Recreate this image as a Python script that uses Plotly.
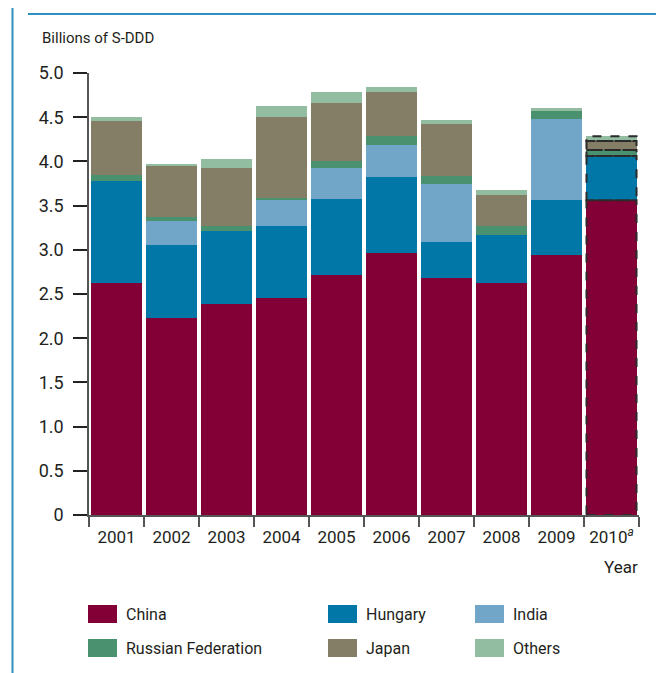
import plotly.graph_objects as go

# === Data (billions of S-DDD) ===
years = ["2001", "2002", "2003", "2004", "2005", "2006", "2007", "2008", "2009", "2010"]
year_labels = ["2001", "2002", "2003", "2004", "2005", "2006", "2007", "2008", "2009",
               "2010<sup><i>a</i></sup>"]
china = [2.62, 2.23, 2.39, 2.45, 2.72, 2.96, 2.68, 2.63, 2.94, 3.56]
hungary = [1.16, 0.82, 0.82, 0.82, 0.85, 0.86, 0.41, 0.54, 0.62, 0.50]
india = [0.0, 0.28, 0.0, 0.30, 0.35, 0.37, 0.65, 0.0, 0.92, 0.0]
russia = [0.065, 0.045, 0.055, 0.015, 0.09, 0.10, 0.10, 0.10, 0.10, 0.07]
japan = [0.61, 0.575, 0.665, 0.92, 0.655, 0.50, 0.585, 0.35, 0.0, 0.10]
others = [0.05, 0.01, 0.10, 0.12, 0.125, 0.055, 0.045, 0.055, 0.02, 0.055]

series = [
    ("China", china, "#820035"),
    ("Hungary", hungary, "#0077a6"),
    ("India", india, "#72a6c9"),
    ("Russian Federation", russia, "#4a9170"),
    ("Japan", japan, "#837e65"),
    ("Others", others, "#93bda0"),
]

FONT = "Roboto, sans-serif"
TXT = "#231f20"
OFF = 8  # default body margin of the html page
W, H = 664 - OFF, 673 - OFF
L, R, T, B = 89 - OFF, 25, 73 - OFF, 158
pw, ph = W - L - R, H - T - B
bargap = 0.09


def px(x):
    # page pixel -> paper coordinate
    return (x - OFF - L) / pw


def py(y):
    return (H - B - (y - OFF)) / ph


fig = go.Figure()
for name, vals, col in series:
    fig.add_trace(go.Bar(x=years, y=vals, name=name, marker_color=col,
                         marker_line_width=0, showlegend=False))

# dashed outline on the estimated 2010 segments
shapes = []
base = 0
idx = len(years) - 1
half = (1 - bargap) / 2
for name, vals, col in series:
    v = vals[idx]
    if v > 0:
        shapes.append(dict(type="rect", xref="x", yref="y",
                           x0=idx - half, x1=idx + half, y0=base, y1=base + v,
                           line=dict(color="#2b2b2b", width=2, dash="dash")))
    base += v

# page frame lines
shapes.append(dict(type="line", xref="paper", yref="paper", x0=px(12.5), x1=px(12.5),
                   y0=py(0), y1=py(673), line=dict(color="#2f8fbf", width=2)))
shapes.append(dict(type="line", xref="paper", yref="paper", x0=px(28), x1=px(664),
                   y0=py(14), y1=py(14), line=dict(color="#2f8fbf", width=2)))

# legend built by hand: 3 columns x 2 rows
legend_x = [88, 328, 475]
legend_y = [614, 648]
annotations = []
for i, (name, vals, col) in enumerate(series):
    cx = legend_x[i % 3]
    cy = legend_y[i // 3]
    shapes.append(dict(type="rect", xref="paper", yref="paper",
                       x0=px(cx), x1=px(cx + 29), y0=py(cy - 9), y1=py(cy + 9),
                       fillcolor=col, line=dict(width=0)))
    annotations.append(dict(text=name, xref="paper", yref="paper", x=px(cx + 36), y=py(cy),
                            xanchor="left", yanchor="middle", showarrow=False,
                            font=dict(size=16, color=TXT, family=FONT)))

annotations.append(dict(text="Billions of S-DDD", xref="paper", yref="paper",
                        x=px(40), y=py(38), xanchor="left", yanchor="middle",
                        showarrow=False, font=dict(size=15, color=TXT, family=FONT)))
annotations.append(dict(text="Year", xref="paper", yref="paper",
                        x=px(640), y=py(567), xanchor="right", yanchor="middle",
                        showarrow=False, font=dict(size=17, color=TXT, family=FONT)))

fig.update_layout(
    barmode="stack",
    bargap=bargap,
    width=W,
    height=H,
    margin=dict(l=L, r=R, t=T, b=B, autoexpand=False),
    plot_bgcolor="white",
    paper_bgcolor="white",
    font=dict(family=FONT, color=TXT, size=17),
    shapes=shapes,
    annotations=annotations,
)
fig.update_xaxes(
    type="category",
    tickvals=years,
    ticktext=year_labels,
    tickson="boundaries",
    tickangle=0,
    automargin=False,
    ticks="outside",
    ticklen=10,
    tickwidth=1.5,
    tickcolor="#555",
    ticklabelstandoff=6,
    showline=True,
    linecolor="#555",
    linewidth=1.5,
    showgrid=False,
    tickfont=dict(size=17, family=FONT, color=TXT),
)
fig.update_yaxes(
    range=[0, 5.0],
    tickvals=[0, 0.5, 1.0, 1.5, 2.0, 2.5, 3.0, 3.5, 4.0, 4.5, 5.0],
    ticktext=["0", "0.5", "1.0", "1.5", "2.0", "2.5", "3.0", "3.5", "4.0", "4.5", "5.0"],
    automargin=False,
    ticks="outside",
    ticklen=14,
    tickwidth=2,
    tickcolor="#222",
    ticklabelstandoff=6,
    showline=True,
    linecolor="#555",
    linewidth=1.5,
    showgrid=False,
    zeroline=False,
    tickfont=dict(size=18, family=FONT, color=TXT),
)

fig.write_html("out.html")
